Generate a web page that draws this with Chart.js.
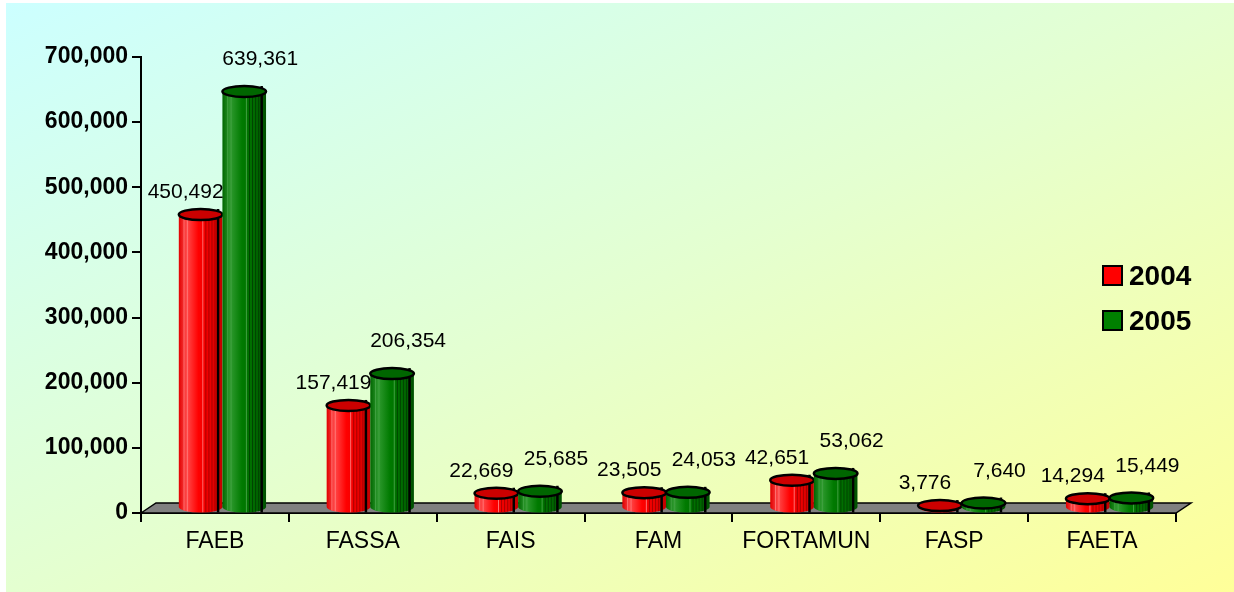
<!DOCTYPE html>
<html>
<head>
<meta charset="utf-8">
<script src="https://cdn.jsdelivr.net/npm/chart.js@4.4.1/dist/chart.umd.min.js"></script>
<style>
html, body { margin: 0; padding: 0; background: #fff; }
</style>
</head>
<body>
<canvas id="fondos" width="1234" height="592"></canvas>
<script>
// dati del grafico
const categories = ['FAEB', 'FASSA', 'FAIS', 'FAM', 'FORTAMUN', 'FASP', 'FAETA'];
const values2004 = [450492, 157419, 22669, 23505, 42651, 3776, 14294];
const values2005 = [639361, 206354, 25685, 24053, 53062, 7640, 15449];
const seriesNames = ['2004', '2005'];
const yMax = 700000;
const yStep = 100000;

const FONT = '"Liberation Sans", Arial, sans-serif';
const depthX = 15, depthY = 10;

const palette = [
  { body: ['#e00000', '#ff4a4a', '#ff0000', '#e80000', '#c00000'], top: '#cc0000', light: '#ff7070', dark: '#a80000', legend: '#ff0000' },
  { body: ['#006600', '#2f9a2f', '#007a00', '#006a00', '#005000'], top: '#006600', light: '#40a040', dark: '#004400', legend: '#008000' }
];

function fmt(v) { return v.toLocaleString('en-US'); }

// sfondo sfumato
const background = {
  id: 'background',
  beforeDraw(chart) {
    const ctx = chart.ctx;
    ctx.save();
    ctx.fillStyle = '#ffffff';
    ctx.fillRect(0, 0, chart.width, chart.height);
    ctx.translate(6, 3);
    ctx.scale(chart.width - 6, chart.height - 3);
    const g = ctx.createLinearGradient(0, 0, 1, 1);
    g.addColorStop(0, '#ccffff');
    g.addColorStop(0.5, '#e4ffd0');
    g.addColorStop(1, '#ffff99');
    ctx.fillStyle = g;
    ctx.fillRect(0, 0, 1, 1);
    ctx.restore();
  }
};

function cylinder(ctx, cx, top, base, w, c) {
  const rx = w / 2, ry = 5.5;
  ctx.save();
  ctx.beginPath();
  ctx.moveTo(cx - rx, top);
  ctx.lineTo(cx - rx, base);
  ctx.ellipse(cx, base, rx, ry, 0, Math.PI, 0, true);
  ctx.lineTo(cx + rx, top);
  ctx.ellipse(cx, top, rx, ry, 0, 0, Math.PI, false);
  ctx.closePath();
  const g = ctx.createLinearGradient(cx - rx, 0, cx + rx, 0);
  g.addColorStop(0, c.body[0]);
  g.addColorStop(0.18, c.body[1]);
  g.addColorStop(0.45, c.body[2]);
  g.addColorStop(0.75, c.body[3]);
  g.addColorStop(1, c.body[4]);
  ctx.fillStyle = g;
  ctx.fill();
  // righe verticali
  ctx.save();
  ctx.clip();
  ctx.lineWidth = 1;
  [0.12, 0.2, 0.55].forEach(f => {
    ctx.strokeStyle = c.light;
    ctx.beginPath();
    ctx.moveTo(cx - rx + f * w, top - ry);
    ctx.lineTo(cx - rx + f * w, base + ry);
    ctx.stroke();
  });
  for (let f = 0.62; f < 0.97; f += 0.07) {
    ctx.strokeStyle = c.dark;
    ctx.beginPath();
    ctx.moveTo(cx - rx + f * w, top - ry);
    ctx.lineTo(cx - rx + f * w, base + ry);
    ctx.stroke();
  }
  ctx.restore();
  ctx.lineWidth = 2.5;
  ctx.strokeStyle = '#000';
  ctx.stroke();
  // coperchio
  ctx.beginPath();
  ctx.ellipse(cx, top, rx, ry, 0, 0, Math.PI * 2);
  ctx.fillStyle = c.top;
  ctx.fill();
  ctx.stroke();
  ctx.restore();
}

const cylinders = {
  id: 'cylinders',
  beforeDatasetsDraw(chart) {
    const ctx = chart.ctx;
    const a = chart.chartArea;
    // pavimento grigio
    ctx.save();
    ctx.beginPath();
    ctx.moveTo(a.left, a.bottom);
    ctx.lineTo(a.left + depthX, a.bottom - depthY);
    ctx.lineTo(a.right + depthX, a.bottom - depthY);
    ctx.lineTo(a.right, a.bottom);
    ctx.closePath();
    ctx.fillStyle = '#808080';
    ctx.fill();
    ctx.lineWidth = 1.5;
    ctx.strokeStyle = '#000';
    ctx.stroke();
    ctx.restore();

    const metas = chart.data.datasets.map((d, i) => chart.getDatasetMeta(i));
    for (let j = 0; j < categories.length; j++) {
      metas.forEach((m, i) => {
        const el = m.data[j];
        cylinder(ctx, el.x + depthX / 2, el.y - depthY / 2, el.base - depthY / 2, el.width, palette[i]);
      });
    }
    // etichette dei valori
    ctx.save();
    ctx.font = '21px ' + FONT;
    ctx.fillStyle = '#000';
    ctx.textAlign = 'center';
    ctx.textBaseline = 'middle';
    const dx = [-15, 16], dy = [-27, -37];
    metas.forEach((m, i) => {
      m.data.forEach((el, j) => {
        const v = chart.data.datasets[i].data[j];
        ctx.fillText(fmt(v), el.x + depthX / 2 + dx[i], el.y + dy[i]);
      });
    });
    ctx.restore();
    return false;
  },
  afterDraw(chart) {
    // legenda
    const ctx = chart.ctx;
    ctx.save();
    chart.data.datasets.forEach((d, i) => {
      const y = 266 + i * 45;
      ctx.fillStyle = palette[i].legend;
      ctx.fillRect(1103, y, 19, 19);
      ctx.lineWidth = 2;
      ctx.strokeStyle = '#000';
      ctx.strokeRect(1103, y, 19, 19);
      ctx.fillStyle = '#000';
      ctx.font = 'bold 28px ' + FONT;
      ctx.textBaseline = 'middle';
      ctx.fillText(d.label, 1129, y + 11);
    });
    ctx.restore();
  }
};

new Chart(document.getElementById('fondos').getContext('2d'), {
  type: 'bar',
  data: {
    labels: categories,
    datasets: [
      { label: seriesNames[0], data: values2004, backgroundColor: palette[0].legend },
      { label: seriesNames[1], data: values2005, backgroundColor: palette[1].legend }
    ]
  },
  options: {
    responsive: false,
    animation: false,
    layout: { padding: { top: 57, right: 58, bottom: 0, left: 0 } },
    datasets: { bar: { categoryPercentage: 0.59, barPercentage: 1.0 } },
    plugins: { legend: { display: false }, tooltip: { enabled: false } },
    scales: {
      x: {
        afterFit(s) { s.height = 79; },
        grid: { drawOnChartArea: false, drawTicks: true, tickLength: 9, color: '#000', lineWidth: 2 },
        border: { display: true, color: '#000', width: 2 },
        ticks: { color: '#000', font: { family: FONT, size: 23 }, padding: 6 }
      },
      y: {
        min: 0, max: yMax,
        afterFit(s) { s.width = 141; },
        grid: { drawOnChartArea: false, drawTicks: true, tickLength: 9, color: '#000', lineWidth: 2 },
        border: { display: true, color: '#000', width: 2 },
        ticks: { stepSize: yStep, color: '#000', padding: 4, font: { family: FONT, size: 23, weight: 'bold' }, callback: v => fmt(v) }
      }
    }
  },
  plugins: [background, cylinders]
});
</script>
</body>
</html>
